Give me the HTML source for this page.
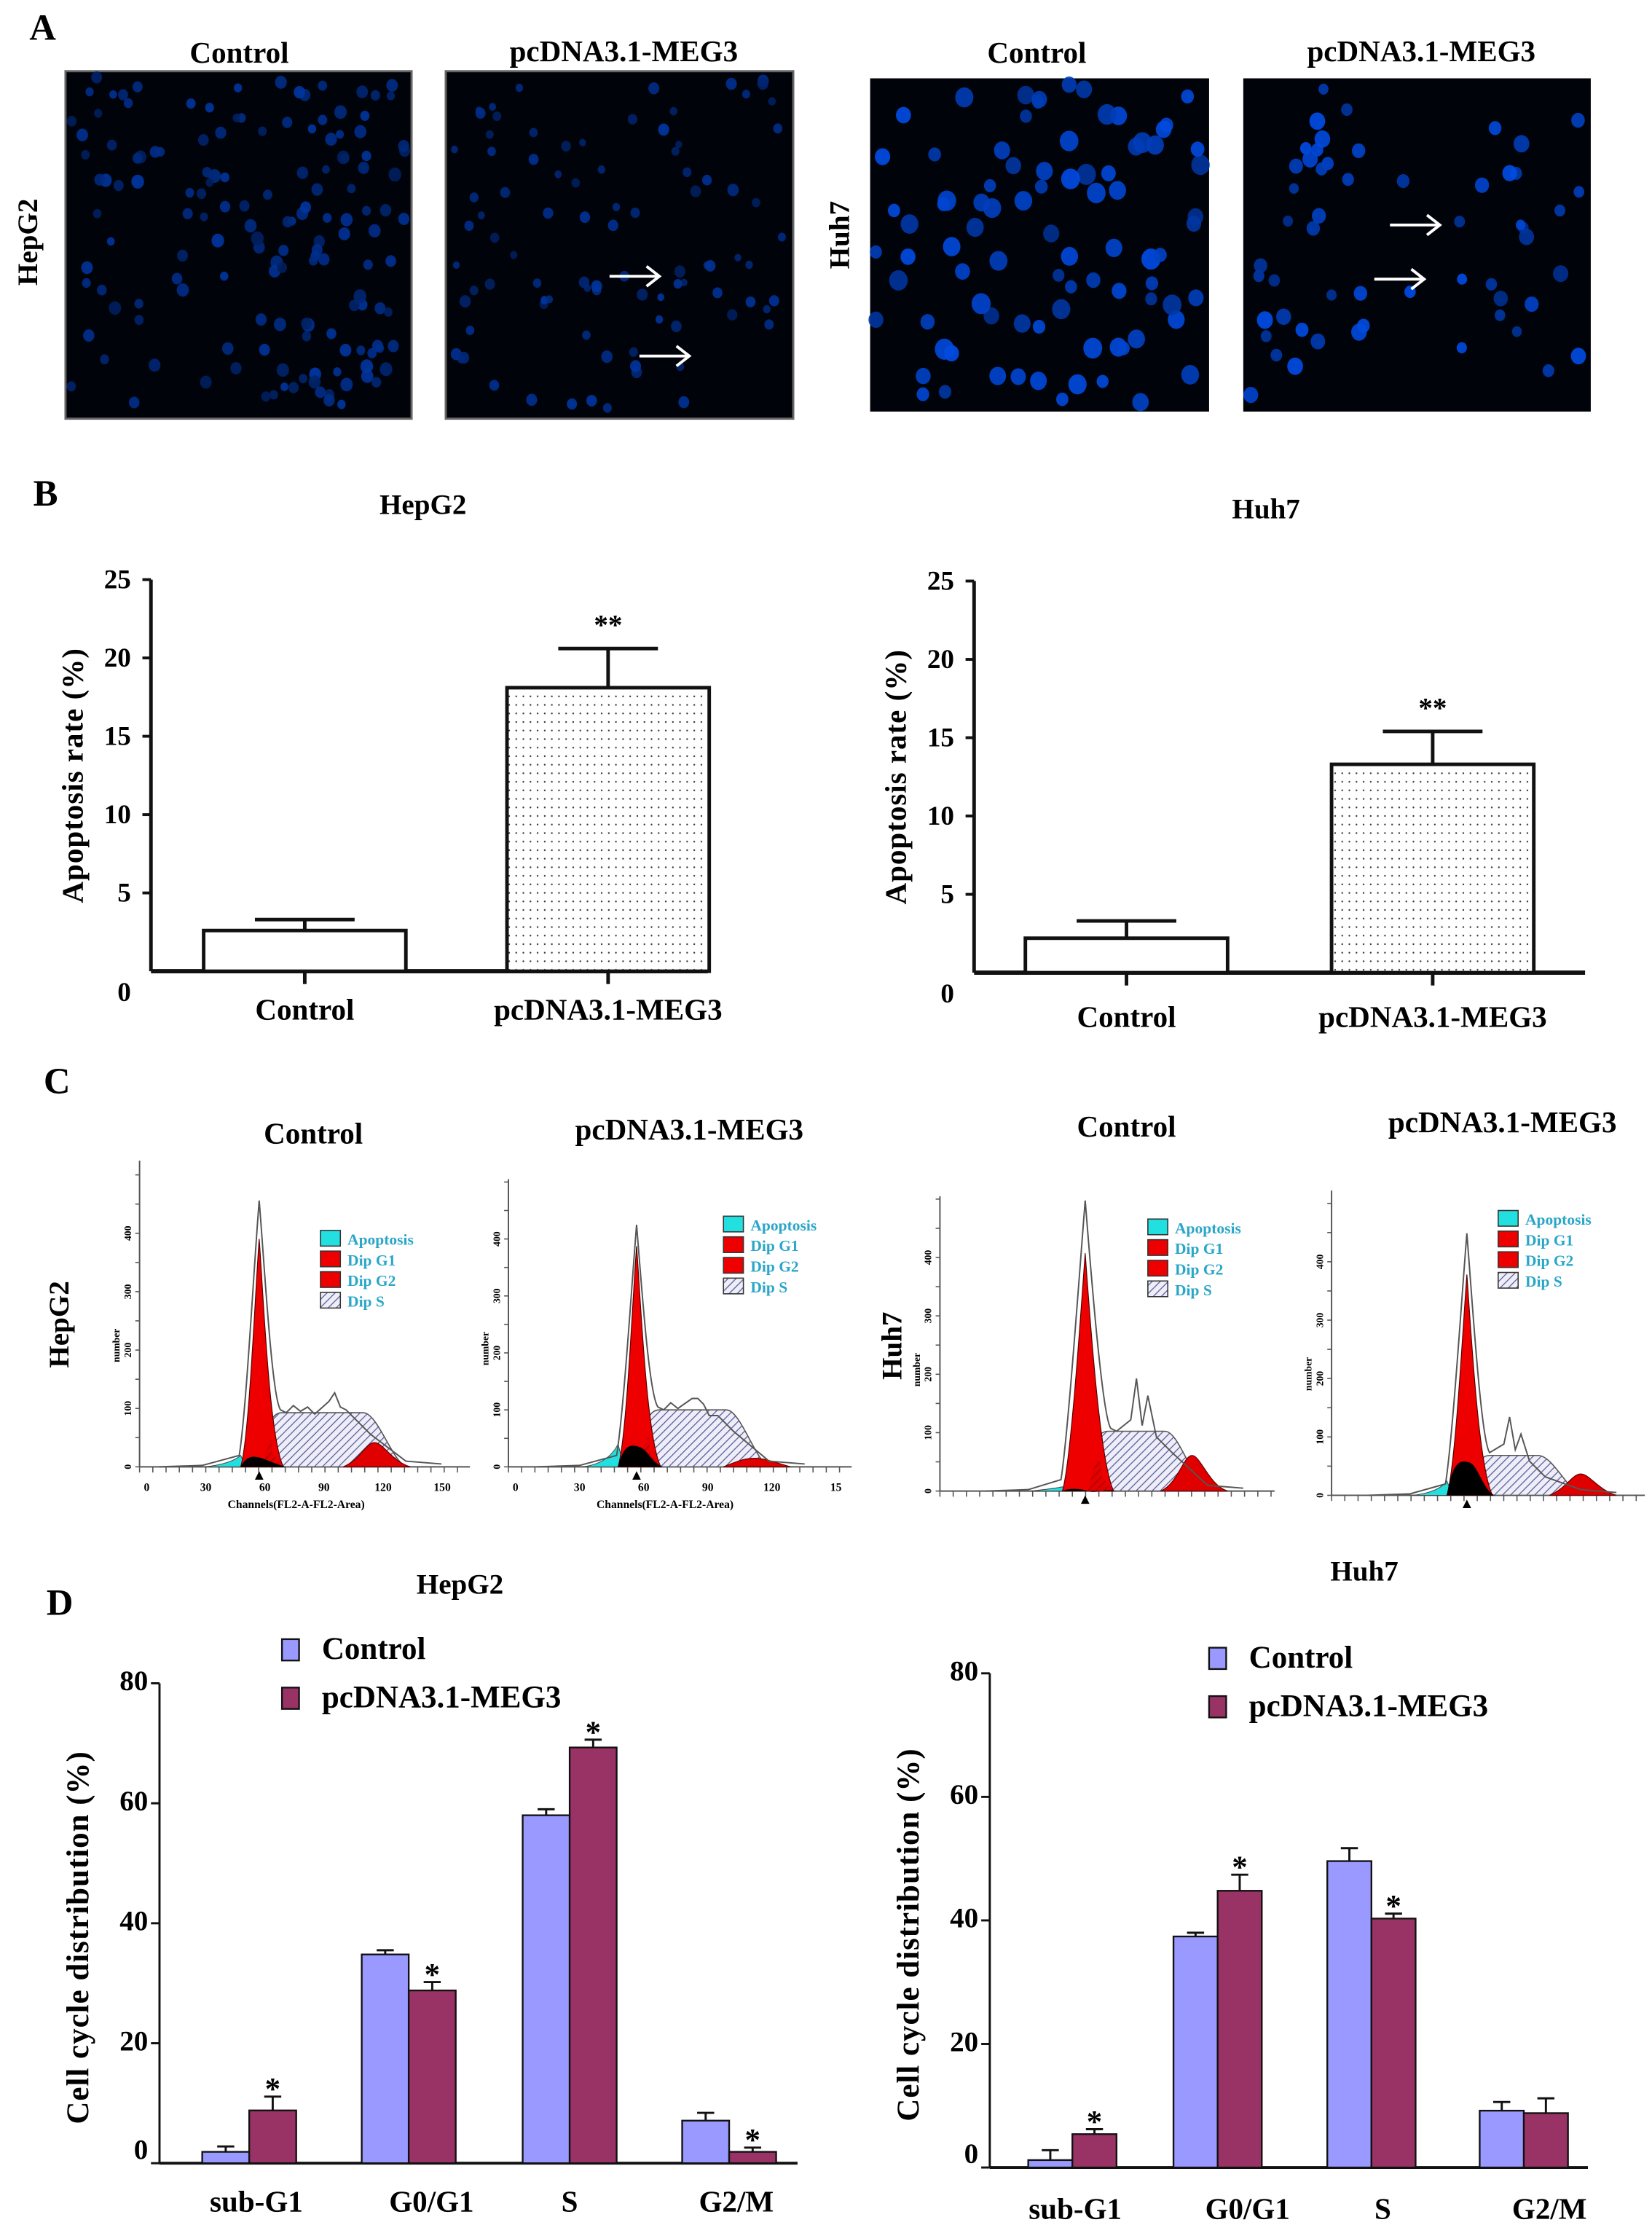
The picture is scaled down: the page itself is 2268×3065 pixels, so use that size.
<!DOCTYPE html>
<html><head><meta charset="utf-8"><style>
html,body{margin:0;padding:0;background:#fff}
svg{display:block}
text{font-family:"Liberation Serif",serif;font-weight:bold}
</style></head><body>
<svg id="fig" xmlns="http://www.w3.org/2000/svg" width="2268" height="3065" viewBox="0 0 1160 1568" preserveAspectRatio="none">
<defs>
<pattern id="dots" width="5" height="6" patternUnits="userSpaceOnUse"><rect width="5" height="6" fill="#fff"/><circle cx="2.5" cy="3" r="0.6" fill="#333"/></pattern>
<pattern id="hatch" width="4" height="4" patternUnits="userSpaceOnUse" patternTransform="rotate(45)"><rect width="4" height="4" fill="#eeeef8"/><line x1="0" y1="0" x2="0" y2="4" stroke="#5a5a9a" stroke-width="1.3"/></pattern>
<pattern id="hatchR" width="4" height="4" patternUnits="userSpaceOnUse" patternTransform="rotate(45)"><rect width="4" height="4" fill="#e00000"/><line x1="0" y1="0" x2="0" y2="4" stroke="#800" stroke-width="1"/></pattern>
</defs>
<g id="panelA"></g>
<g id="panelB"></g>
<g id="panelC"></g>
<g id="panelD"></g>
</svg>
<script>
// ---------- Panel B data ----------
const bCategories = ["Control", "pcDNA3.1-MEG3"];
const bHepG2Values = [2.6, 18.1];
const bHepG2Errors = [0.7, 2.5];
const bHuh7Values = [2.2, 13.3];
const bHuh7Errors = [1.1, 2.1];
const bTicks = [0, 5, 10, 15, 20, 25];
// ---------- Panel D data ----------
const dCategories = ["sub-G1", "G0/G1", "S", "G2/M"];
const dSeries = ["Control", "pcDNA3.1-MEG3"];
const dHepG2Control = [1.9, 34.8, 58.0, 7.1];
const dHepG2ControlErr = [0.9, 0.7, 1.0, 1.3];
const dHepG2MEG3 = [8.8, 28.8, 69.3, 1.9];
const dHepG2MEG3Err = [2.3, 1.4, 1.3, 0.7];
const dHuh7Control = [1.2, 37.4, 49.6, 9.2];
const dHuh7ControlErr = [1.6, 0.6, 2.1, 1.4];
const dHuh7MEG3 = [5.4, 44.8, 40.3, 8.8];
const dHuh7MEG3Err = [0.8, 2.6, 0.8, 2.4];
const dTicks = [0, 20, 40, 60, 80];

const NS = "http://www.w3.org/2000/svg";
function mk(parent, tag, attrs, txt){const e=document.createElementNS(NS,tag);for(const k in attrs)e.setAttribute(k,attrs[k]);if(txt!==undefined)e.textContent=txt;parent.appendChild(e);return e;}
function label(parent,x,y,t,size,name,extra){const e=mk(parent,"text",Object.assign({x:x,y:y,"font-size":size,"text-anchor":"middle"},extra||{}),t);


return e;}

// ---------- Panel A ----------
const A=document.getElementById("panelA");
label(A,30,28,"A",26,"panel-a-letter");
label(A,168,44,"Control",21,"hepg2-control-title");
label(A,438,43,"pcDNA3.1-MEG3",21,"hepg2-meg3-title");
label(A,728,44,"Control",21,"huh7-control-title");
label(A,998,43,"pcDNA3.1-MEG3",21,"huh7-meg3-title");
label(A,26,170,"HepG2",20,"hepg2-row-label",{transform:"rotate(-90 26 170)"});
label(A,596,165,"Huh7",20,"huh7-row-label",{transform:"rotate(-90 596 165)"});
let seed=7;function rnd(){seed=(seed*16807)%2147483647;return seed/2147483647;}
function micro(x,y,w,h,n,r,name,bright,arrows,border){
  const g=mk(A,"g",{});
  
  
  mk(g,"rect",{x:x,y:y,width:w,height:h,fill:"#01030a",stroke:border?"#666":"none","stroke-width":1.5});
  for(let i=0;i<n;i++){const cx=x+4+rnd()*(w-8),cy=y+4+rnd()*(h-8);const rr=r*(0.75+rnd()*0.5);
    const l=bright?28+rnd()*18:18+rnd()*14;
    mk(g,"ellipse",{cx:cx,cy:cy,rx:rr,ry:rr*1.1,fill:"hsl(220,100%,"+l+"%)",opacity:0.9});}
  (arrows||[]).forEach(a=>{mk(g,"line",{x1:a[0]-38,y1:a[1],x2:a[0]-4,y2:a[1],stroke:"#fff","stroke-width":2});
    mk(g,"path",{d:`M${a[0]-12},${a[1]-7} L${a[0]-3},${a[1]} L${a[0]-12},${a[1]+7}`,stroke:"#fff","stroke-width":2,fill:"none"});});
}
micro(46,50,243,244,150,3.6,"hepg2-control-image",false,null,true);
micro(313,50,244,244,90,3.2,"hepg2-meg3-image",false,[[466,194],[487,250]],true);
micro(611,55,238,234,85,5.5,"huh7-control-image",true);
micro(873,55,244,234,55,4.5,"huh7-meg3-image",true,[[1014,158],[1003,196]]);

// ---------- Panel B ----------
const B=document.getElementById("panelB");
label(B,32,355,"B",26,"panel-b-letter");
function barChartB(ax,y0,yTop,xEnd,title,tx,ty,vals,errs,barX,labY,prefix){
  const g=mk(B,"g",{});
  
  
  const sy=v=>y0-(y0-yTop)*v/25;
  label(g,tx,ty,title,20,prefix+"-chart-title");
  mk(g,"line",{x1:ax,y1:yTop,x2:ax,y2:y0,stroke:"#111","stroke-width":2.5});
  mk(g,"line",{x1:ax,y1:y0,x2:xEnd,y2:y0,stroke:"#111","stroke-width":3});
  bTicks.forEach(t=>{const y=sy(t);
    if(t>0)mk(g,"line",{x1:ax-6,y1:y,x2:ax,y2:y,stroke:"#111","stroke-width":2});
    label(g,ax-14,t===0?y+21:y+6,String(t),19,prefix+"-ytick-"+t,{"text-anchor":"end"});});
  label(g,ax-48,(yTop+y0)/2,"Apoptosis rate (%)",21,prefix+"-y-axis-title",{transform:`rotate(-90 ${ax-48} ${(yTop+y0)/2})`,"letter-spacing":"0.5"});
  const bw=142;
  vals.forEach((v,i)=>{const x=barX[i];const top=sy(v);const cx=x+bw/2;const et=sy(v+errs[i]);
    const r=mk(g,"rect",{x:x,y:top,width:bw,height:y0-top,fill:i?"url(#dots)":"#fff",stroke:"#111","stroke-width":2.5});
    
    
    mk(g,"line",{x1:cx,y1:top,x2:cx,y2:et,stroke:"#111","stroke-width":2.5});
    mk(g,"line",{x1:cx-35,y1:et,x2:cx+35,y2:et,stroke:"#111","stroke-width":2.5});
    mk(g,"line",{x1:cx,y1:y0,x2:cx,y2:y0+9,stroke:"#111","stroke-width":2.5});
    label(g,cx,labY,bCategories[i],21,prefix+"-xlabel-"+i);
    if(i===1)label(g,cx,et-10,"**",20,prefix+"-significance");
  });
}
barChartB(106,682,407,497,"HepG2",297,361,bHepG2Values,bHepG2Errors,[143,356],716,"hepg2");
barChartB(684,683,408,1113,"Huh7",889,364,bHuh7Values,bHuh7Errors,[720,935],721,"huh7");

// ---------- Panel C ----------
const C=document.getElementById("panelC");
label(C,40,768,"C",26,"panel-c-letter");
label(C,220,803,"Control",21,"c-hepg2-control-title");
label(C,484,800,"pcDNA3.1-MEG3",21,"c-hepg2-meg3-title");
label(C,791,798,"Control",21,"c-huh7-control-title");
label(C,1055,795,"pcDNA3.1-MEG3",21,"c-huh7-meg3-title");
label(C,48,930,"HepG2",20,"c-hepg2-row-label",{transform:"rotate(-90 48 930)"});
label(C,633,945,"Huh7",20,"c-huh7-row-label",{transform:"rotate(-90 633 945)"});
function hist(p){
  const g=mk(C,"g",{});
  
  
  const b=p.base, ax=p.ax;
  mk(g,"line",{x1:ax,y1:p.top,x2:ax,y2:b,stroke:"#555","stroke-width":1});
  mk(g,"line",{x1:ax,y1:b,x2:p.xend,y2:b,stroke:"#555","stroke-width":1});
  for(let x=ax;x<=p.xend;x+=p.tick)mk(g,"line",{x1:x,y1:b,x2:x,y2:b+4,stroke:"#555","stroke-width":0.8});
  for(let y=b;y>=p.top;y-=p.ytick/2)mk(g,"line",{x1:ax-3,y1:y,x2:ax,y2:y,stroke:"#555","stroke-width":0.8});
  [0,100,200,300,400].forEach((v,i)=>{const y=b-i*p.ytick;label(g,ax-6,y,String(v),7,p.name+"-ytick-"+v,{transform:`rotate(-90 ${ax-6} ${y})`});});
  label(g,ax-14,b-2.2*p.ytick+5,"number",7,p.name+"-y-title",{transform:`rotate(-90 ${ax-14} ${b-2.2*p.ytick+5})`});
  if(p.xl){p.xl.forEach((t,i)=>label(g,ax+5+i*p.xlstep,b+17,t,8,p.name+"-xtick-"+i));
    label(g,ax+110,b+29,"Channels(FL2-A-FL2-Area)",8,p.name+"-x-title");}
  const px=p.px,w=p.w;
  mk(g,"path",{d:`M${px-38},${b} Q${px-20},${b-2} ${px-w-4},${b-p.cy} L${px-w},${b} Z`,fill:"#22e0e0",stroke:"#444","stroke-width":0.5});
  mk(g,"path",{d:`M${px},${b} C${px+5},${p.sy+10} ${px+8},${p.sy} ${px+16},${p.sy} L${p.se-10},${p.sy} C${p.se},${p.sy} ${p.se+10},${b-5} ${p.se+20},${b} Z`,fill:"url(#hatch)",stroke:"#555","stroke-width":0.8});
  mk(g,"path",{d:`M${px-w-4},${b} C${px-w+2},${b-20} ${px-3},${p.rk+40} ${px},${p.rk} C${px+3},${p.rk+40} ${px+w-2},${b-20} ${px+w+8},${b} Z`,fill:"#ee0000",stroke:"#500","stroke-width":0.6});
  mk(g,"path",{d:`M${px+2},${b} C${px+6},${p.sy+25} ${px+10},${p.sy+8} ${px+w},${b-10} L${px+w+8},${b} Z`,fill:"url(#hatchR)",opacity:0.8});
  mk(g,"path",{d:`M${p.g2x-22},${b} C${p.g2x-10},${b-5} ${p.g2x-6},${p.g2y} ${p.g2x},${p.g2y} C${p.g2x+6},${p.g2y} ${p.g2x+12},${b-4} ${p.g2x+25},${b} Z`,fill:"#e00000",stroke:"#600","stroke-width":0.6});
  mk(g,"path",{d:`M${px-w-4},${b} C${px-w},${p.by} ${px-4},${p.by} ${px+2},${p.by+2} C${px+8},${p.by+4} ${px+w+2},${b-2} ${px+w+10},${b} Z`,fill:"#000"});
  // noisy outline
  let o=`M${px-70},${b} L${px-40},${b-1} L${px-w-5},${b-8} C${px-w},${b-40} ${px-4},${p.pk+50} ${px},${p.pk} C${px+4},${p.pk+50} ${px+w},${p.sy-10} ${px+w+6},${p.sy-2}`;
  const jit=[2,-3,1,-2,3,-1,2,-4,1,3,-2,0];
  let k=0;for(let x=px+w+10;x<p.se-40;x+=5){o+=` L${x},${p.sy-2+jit[k%jit.length]}`;k++;}
  o+=` L${p.se-34},${p.sy-8} L${p.se-30},${p.hump} L${p.se-26},${p.sy-4} L${p.se-22},${p.hump+12} L${p.se-16},${p.sy+4} L${p.se-5},${p.sy+15} L${p.se+20},${b-4} L${p.se+45},${b-2}`;
  mk(g,"path",{d:o,fill:"none",stroke:"#555","stroke-width":1});
  mk(g,"path",{d:`M${px-3},${b+9} L${px},${b+3} L${px+3},${b+9} Z`,fill:"#000"});
  const L=p.leg, items=[["Apoptosis","#22e0e0"],["Dip G1","#ee0000"],["Dip G2","#ee0000"],["Dip S","url(#hatch)"]];
  items.forEach((it,i)=>{mk(g,"rect",{x:L[0],y:L[1]+i*14.5,width:14,height:11,fill:it[1],stroke:"#333","stroke-width":0.8});
    label(g,L[0]+19,L[1]+i*14.5+10,it[0],11,p.name+"-legend-"+i,{"text-anchor":"start",fill:"#2aa6c8","font-weight":"normal"});});
}
hist({name:"hist-hepg2-control",ax:98,base:1030,top:815,xend:330,tick:9.3,ytick:41,px:182,w:9,pk:843,rk:870,sy:992,se:265,g2x:263,g2y:1013,by:1022,cy:8,hump:978,leg:[225,864],xl:["0","30","60","90","120","150"],xlstep:41.5});
hist({name:"hist-hepg2-meg3",ax:357,base:1030,top:828,xend:598,tick:9.3,ytick:40,px:447,w:9,pk:860,rk:875,sy:990,se:520,g2x:530,g2y:1024,by:1014,cy:16,hump:982,leg:[508,854],xl:["0","30","60","90","120","15"],xlstep:45});
hist({name:"hist-huh7-control",ax:660,base:1047,top:840,xend:895,tick:9.3,ytick:41,px:762,w:12,pk:843,rk:880,sy:1005,se:828,g2x:837,g2y:1022,by:1045,cy:3,hump:968,leg:[806,856]});
hist({name:"hist-huh7-meg3",ax:935,base:1050,top:836,xend:1155,tick:9.3,ytick:41,px:1030,w:10,pk:866,rk:895,sy:1022,se:1090,g2x:1110,g2y:1035,by:1025,cy:10,hump:995,leg:[1052,850]});

// ---------- Panel D ----------
const D=document.getElementById("panelD");
label(D,42,1134,"D",26,"panel-d-letter");
function barChartD(o){
  const g=mk(D,"g",{});
  
  
  const sy=v=>o.y0-(o.y0-o.yTop)*v/80;
  label(g,o.tx,o.ty,o.title,20,o.prefix+"-d-title");
  mk(g,"line",{x1:o.ax,y1:o.yTop,x2:o.ax,y2:o.y0,stroke:"#111","stroke-width":1.5});
  mk(g,"line",{x1:o.ax,y1:o.y0,x2:o.xEnd,y2:o.y0,stroke:"#111","stroke-width":2});
  dTicks.forEach(t=>{const y=sy(t);mk(g,"line",{x1:o.ax-6,y1:y,x2:o.ax,y2:y,stroke:"#111","stroke-width":1.5});
    label(g,o.ax-8,t===0?y-3:y+5,String(t),20,o.prefix+"-d-ytick-"+t,{"text-anchor":"end"});});
  const yc=(o.yTop+o.y0)/2;
  label(g,o.ax-50,yc+10,"Cell cycle distribution (%)",22,o.prefix+"-d-y-title",{transform:`rotate(-90 ${o.ax-50} ${yc+10})`,"letter-spacing":"0.5"});
  const bw=o.bw;
  [[o.c,o.ce,"#9999ff"],[o.m,o.me,"#993366"]].forEach((s,si)=>{
    s[0].forEach((v,i)=>{const x=o.gx[i]-bw+si*bw;const top=sy(v);const cx=x+bw/2;const et=sy(v+s[1][i]);
      const r=mk(g,"rect",{x:x,y:top,width:bw,height:o.y0-top,fill:s[2],stroke:"#111","stroke-width":1.2});
      
      
      mk(g,"line",{x1:cx,y1:top,x2:cx,y2:et,stroke:"#111","stroke-width":1.5});
      mk(g,"line",{x1:cx-6,y1:et,x2:cx+6,y2:et,stroke:"#111","stroke-width":1.5});
      if(si===1&&o.star[i])label(g,cx,et+2,"*",22,o.prefix+"-star-"+i);
    });});
  dCategories.forEach((c,i)=>label(g,o.gx[i]+o.lo[i],o.labY,c,21,o.prefix+"-d-xlabel-"+i));
  dSeries.forEach((s,i)=>{const r=mk(g,"rect",{x:o.leg[0],y:o.leg[1]+i*34,width:12,height:15,fill:i?"#993366":"#9999ff",stroke:"#111","stroke-width":1.2});
    
    
    label(g,o.leg[0]+28,o.leg[1]+i*34+14,s,22,o.prefix+"-legend-"+i,{"text-anchor":"start"});});
}
barChartD({prefix:"hepg2",title:"HepG2",tx:323,ty:1119,ax:112,y0:1519,yTop:1182,xEnd:560,bw:33,
  gx:[175,287,400,512],c:dHepG2Control,ce:dHepG2ControlErr,m:dHepG2MEG3,me:dHepG2MEG3Err,star:[1,1,1,1],
  lo:[5,16,0,5],labY:1553,leg:[198,1151]});
barChartD({prefix:"huh7",title:"Huh7",tx:958,ty:1110,ax:695,y0:1522,yTop:1175,xEnd:1115,bw:31,
  gx:[753,855,963,1070],c:dHuh7Control,ce:dHuh7ControlErr,m:dHuh7MEG3,me:dHuh7MEG3Err,star:[1,1,1,0],
  lo:[2,21,8,18],labY:1558,leg:[849,1157]});
</script>
</body></html>
